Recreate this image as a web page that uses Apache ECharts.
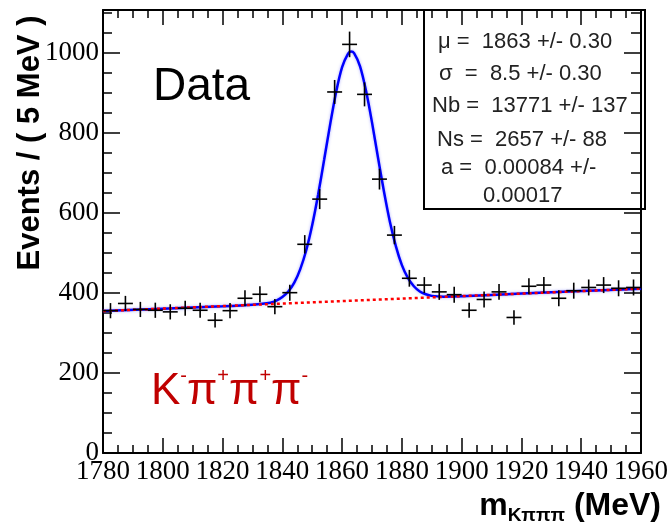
<!DOCTYPE html>
<html>
<head>
<meta charset="utf-8">
<script src="https://cdn.jsdelivr.net/npm/echarts@6/dist/echarts.min.js"></script>
<style>
html,body{margin:0;padding:0;background:#fff;}
#chart{width:671px;height:528px;}
</style>
</head>
<body>
<div id="chart"></div>
<script>
// ---- data ----
const binCenters = [1782.5,1787.5,1792.5,1797.5,1802.5,1807.5,1812.5,1817.5,1822.5,1827.5,1832.5,1837.5,
  1842.5,1847.5,1852.5,1857.5,1862.5,1867.5,1872.5,1877.5,1882.5,1887.5,1892.5,1897.5,
  1902.5,1907.5,1912.5,1917.5,1922.5,1927.5,1932.5,1937.5,1942.5,1947.5,1952.5,1957.5];
const counts = [356,374,359,357,353,362,357,332,356,387,397,366,
  401,522,635,903,1022,897,685,545,437,420,403,396,
  357,384,403,339,417,420,387,406,414,420,412,414];
const countErrors = [19,19,19,19,19,19,19,18,19,20,20,19,
  20,23,25,30,32,30,26,23,21,20,20,20,
  19,20,20,18,20,20,20,20,20,20,20,20];
const binHalfWidth = 2.5;
// total fit curve (blue)
const fitX = [1780,1800,1820,1830,1836,1838,1840,1842,1844,1846,1848,1850,1852,1854,1856,1858,1860,1862,1863,1864,1866,1868,1870,1872,1874,1876,1878,1880,1882,1884,1886,1888,1890,1894,1900,1920,1940,1960];
const fitY = [355,361,367,371,376,381,390,404,426,460,507,570,647,734,822,903,965,999,1004,1000,967,906,827,739,654,578,517,470,438,417,404,397,393,391,392,399,405,411];
// background component (red dotted)
const bkgX = [1780,1960];
const bkgY = [355,411];
const xTicks = {min:1780,max:1960,step:20};
const yTicks = {min:0,max:1108,step:200,minorStep:50};
const statsLines = ["\u03bc =  1863 +/- 0.30","\u03c3  =  8.5 +/- 0.30","Nb =  13771 +/- 137","Ns =  2657 +/- 88","a =  0.00084 +/-","0.00017"];

const chart = echarts.init(document.getElementById('chart'), null, {renderer:'canvas'});
const serif = '"Liberation Serif","DejaVu Serif",serif';
const sans = '"Liberation Sans","DejaVu Sans",sans-serif';

function xAxisCfg(pos, labels){
  return {
    type:'value', position:pos, min:xTicks.min, max:xTicks.max, interval:xTicks.step,
    axisLine:{show:true, onZero:false, lineStyle:{color:'#000', width:2}},
    axisTick:{show:true, inside:true, length:15, lineStyle:{color:'#000', width:1.5}},
    minorTick:{show:true, splitNumber:4, length:8, lineStyle:{color:'#000', width:1.5}},
    axisLabel:{show:labels, color:'#000', fontFamily:serif, fontSize:27, margin:5,
      showMinLabel:true, showMaxLabel:true, hideOverlap:false,
      formatter:function(v){ return String(v); }},
    splitLine:{show:false}, minorSplitLine:{show:false}
  };
}
function yAxisCfg(pos, step, len, labels, line){
  return {
    type:'value', position:pos, min:yTicks.min, max:yTicks.max, interval:step,
    axisLine:{show:line, onZero:false, lineStyle:{color:'#000', width:2}},
    axisTick:{show:true, inside:true, length:len, lineStyle:{color:'#000', width:1.5}},
    axisLabel:{show:labels, color:'#000', fontFamily:serif, fontSize:27, margin:4,
      formatter:function(v){ return (v % yTicks.step === 0) ? String(v) : ''; }},
    splitLine:{show:false}
  };
}

const errData = binCenters.map((x,i)=>[x, counts[i], countErrors[i]]);
const fitData = fitX.map((x,i)=>[x, fitY[i]]);
const bkgData = bkgX.map((x,i)=>[x, bkgY[i]]);

const option = {
  animation:false,
  backgroundColor:'#fff',
  grid:{left:103, right:26, top:10, bottom:75, containLabel:false},
  xAxis:[xAxisCfg('bottom', true), xAxisCfg('top', false)],
  yAxis:[
    yAxisCfg('left', yTicks.step, 17, true, true),
    yAxisCfg('left', yTicks.minorStep, 9, false, false),
    yAxisCfg('right', yTicks.step, 17, false, true),
    yAxisCfg('right', yTicks.minorStep, 10, false, false)
  ],
  series:[
    {
      type:'line', name:'fit', data:fitData, smooth:0.25,
      showSymbol:false, symbol:'none', z:3,
      lineStyle:{color:'#0000ff', width:2.5, shadowColor:'rgba(90,90,255,0.5)', shadowBlur:3}
    },
    {
      type:'line', name:'background', data:bkgData, showSymbol:false, symbol:'none', z:4,
      lineStyle:{color:'#ff0000', width:2.5, type:[3,3]}
    },
    {
      type:'custom', name:'data', data:errData, z:5,
      encode:{x:0, y:1},
      renderItem:function(params, api){
        const x = api.value(0), y = api.value(1), e = api.value(2);
        const l = api.coord([x - binHalfWidth, y]);
        const r = api.coord([x + binHalfWidth, y]);
        const t = api.coord([x, y + e]);
        const b = api.coord([x, y - e]);
        return {type:'group', children:[
          {type:'line', shape:{x1:l[0], y1:l[1], x2:r[0], y2:r[1]}, style:{stroke:'#000', lineWidth:1.6}},
          {type:'line', shape:{x1:t[0], y1:t[1], x2:b[0], y2:b[1]}, style:{stroke:'#000', lineWidth:1.6}}
        ]};
      }
    }
  ],
  graphic:[
    {type:'rect', z:10, shape:{x:424, y:10, width:221, height:199},
      style:{fill:'none', stroke:'#000', lineWidth:2}},
    {type:'text', z:11, left:438, top:31, style:{text:statsLines[0], font:'22px '+sans, fill:'#222'}},
    {type:'text', z:11, left:439, top:63, style:{text:statsLines[1], font:'22px '+sans, fill:'#222'}},
    {type:'text', z:11, left:432, top:95, style:{text:statsLines[2], font:'22px '+sans, fill:'#222'}},
    {type:'text', z:11, left:437, top:129, style:{text:statsLines[3], font:'22px '+sans, fill:'#222'}},
    {type:'text', z:11, left:441, top:157, style:{text:statsLines[4], font:'22px '+sans, fill:'#222'}},
    {type:'text', z:11, left:483, top:185, style:{text:statsLines[5], font:'22px '+sans, fill:'#222'}},
    {type:'text', z:11, x:153, y:87, style:{text:'Data', font:'46px '+sans, fill:'#000', align:'left', verticalAlign:'middle'}},
    {type:'text', z:11, x:151, y:390, style:{
      text:'{b|K}{s|-}{b|\u03c0}{s|+}{b|\u03c0}{s|+}{b|\u03c0}{s|-}',
      align:'left', verticalAlign:'middle',
      rich:{
        b:{fontFamily:sans, fontSize:44, fill:'#c00000', color:'#c00000', lineHeight:48, verticalAlign:'bottom'},
        s:{fontFamily:sans, fontSize:20, fill:'#c00000', color:'#c00000', lineHeight:48, verticalAlign:'top'}
      }}},
    {type:'text', z:11, x:30, y:143, rotation:Math.PI/2, style:{
      text:'Events / ( 5 MeV )', font:'bold 31px '+sans, fill:'#000', align:'center', verticalAlign:'middle'}},
    {type:'text', z:11, x:661, y:506, style:{
      text:'{m|m}{sub|K\u03c0\u03c0\u03c0}{m| (MeV)}',
      align:'right', verticalAlign:'middle',
      rich:{
        m:{fontFamily:sans, fontWeight:'bold', fontSize:32, color:'#000', lineHeight:38, verticalAlign:'middle'},
        sub:{fontFamily:sans, fontWeight:'bold', fontSize:19, color:'#000', lineHeight:38, verticalAlign:'bottom'}
      }}}
  ]
};
chart.setOption(option);
</script>
</body>
</html>
